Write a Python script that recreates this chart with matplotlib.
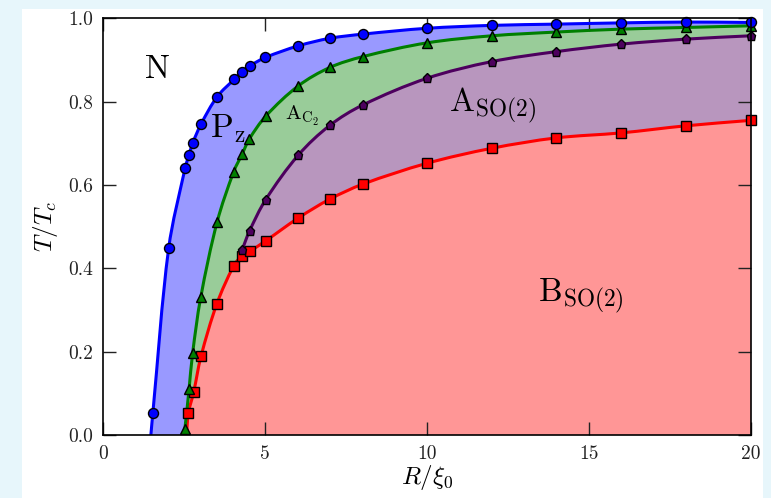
import matplotlib
matplotlib.use("Agg")
import numpy as np
import matplotlib.pyplot as plt
from matplotlib.patches import Rectangle, PathPatch
from matplotlib.path import Path
from matplotlib.ticker import FormatStrFormatter

plt.rcParams['font.family'] = 'serif'
plt.rcParams['font.serif'] = ['cmr10']
plt.rcParams['mathtext.fontset'] = 'cm'
plt.rcParams['axes.unicode_minus'] = False

# ---- data ----
# N -> P_z boundary (blue circles)
blue_x = [1.53, 2.02, 2.53, 2.65, 2.76, 3.02, 3.52, 4.05, 4.28, 4.53, 5.01, 6.03, 7.0, 8.02, 10.0, 12.0, 14.0, 16.0, 18.0, 20.0]
blue_y = [0.052, 0.448, 0.641, 0.672, 0.700, 0.746, 0.812, 0.854, 0.872, 0.886, 0.906, 0.934, 0.952, 0.962, 0.976, 0.983, 0.986, 0.989, 0.991, 0.990]
blue_start = (1.47, 0.0)

# P_z -> A_C2 boundary (green triangles)
green_x = [2.52, 2.65, 2.76, 3.01, 3.52, 4.03, 4.29, 4.51, 5.03, 6.03, 7.0, 8.02, 10.0, 12.0, 14.0, 16.0, 18.0, 20.0]
green_y = [0.014, 0.110, 0.196, 0.330, 0.512, 0.632, 0.674, 0.710, 0.766, 0.838, 0.882, 0.908, 0.941, 0.958, 0.967, 0.974, 0.978, 0.982]
green_start = (2.49, 0.0)

# A_C2 -> A_SO(2) boundary (purple pentagons)
purple_x = [4.28, 4.52, 5.02, 6.03, 7.0, 8.02, 10.0, 12.0, 14.0, 16.0, 18.0, 20.0]
purple_y = [0.444, 0.490, 0.565, 0.672, 0.743, 0.792, 0.856, 0.896, 0.920, 0.938, 0.950, 0.958]
purple_start = (4.17, 0.432)

# -> B_SO(2) boundary (red squares)
red_x = [2.63, 2.79, 3.02, 3.51, 4.03, 4.28, 4.53, 5.02, 6.03, 7.0, 8.02, 10.0, 12.0, 14.0, 16.0, 18.0, 20.0]
red_y = [0.053, 0.102, 0.189, 0.315, 0.406, 0.430, 0.441, 0.466, 0.521, 0.566, 0.602, 0.652, 0.688, 0.713, 0.725, 0.742, 0.755]
red_start = (2.57, 0.0)

x_ticks = [0, 5, 10, 15, 20]
y_ticks = [0.0, 0.2, 0.4, 0.6, 0.8, 1.0]

phase_labels = ['N', r'$\mathrm{P}_{\mathrm{z}}$', r'$\mathrm{A}_{\mathrm{C}_2}$',
                r'$\mathrm{A}_{\mathrm{SO(2)}}$', r'$\mathrm{B}_{\mathrm{SO(2)}}$']

# ---- figure ----
fig = plt.figure(figsize=(7.71, 4.98), dpi=100, facecolor='#e7f6fb')
bg = Rectangle((22 / 771, 0), (763 - 22) / 771, (498 - 9) / 498,
               transform=fig.transFigure, facecolor='white',
               edgecolor='none', zorder=-10)
fig.add_artist(bg)
ax_w_px, ax_h_px = 750.5 - 103.3, 435 - 18.3
ax = fig.add_axes([103.3 / 771, (498 - 435) / 498, ax_w_px / 771, ax_h_px / 498])
ax.set_zorder(1)
ax.set_facecolor('white')
ax.set_xlim(0, 20)
ax.set_ylim(0, 1.0)

def full(start, xs, ys):
    return [start[0]] + list(xs), [start[1]] + list(ys)

def smooth_path(xs, ys, close_to=None):
    """Bezier (CURVE4) path passing through the data points; matplotlib draws the curve."""
    sx, sy = ax_w_px / 20.0, ax_h_px / 1.0
    P = np.column_stack([np.asarray(xs) * sx, np.asarray(ys) * sy])
    n = len(P)
    T = np.zeros_like(P)
    for i in range(n):
        a = P[max(i - 1, 0)]
        b = P[min(i + 1, n - 1)]
        d = b - a
        T[i] = d / np.hypot(*d)
    verts = [P[0]]
    codes = [Path.MOVETO]
    for i in range(n - 1):
        L = np.hypot(*(P[i + 1] - P[i]))
        verts += [P[i] + T[i] * L / 3, P[i + 1] - T[i + 1] * L / 3, P[i + 1]]
        codes += [Path.CURVE4] * 3
    verts = np.array(verts) / np.array([sx, sy])
    verts = [tuple(v) for v in verts]
    if close_to is not None:
        for v in close_to:
            verts.append(v)
            codes.append(Path.LINETO)
        verts.append(verts[0])
        codes.append(Path.CLOSEPOLY)
    return Path(verts, codes)

bx, by = full(blue_start, blue_x, blue_y)
gx, gy = full(green_start, green_x, green_y)
px, py = full(purple_start, purple_x, purple_y)
rx, ry = full(red_start, red_x, red_y)

fills = [(bx, by, '#9999ff', [(20.5, by[-1]), (20.5, 0.0)]),
         (gx, gy, '#99cc99', [(20.5, gy[-1]), (20.5, 0.0)]),
         (px, py, '#b896be', [(20.5, py[-1]), (20.5, 0.0), (px[0], 0.0)]),
         (rx, ry, '#ff9696', [(20.5, ry[-1]), (20.5, 0.0)])]
for k, (xs, ys, col, tail) in enumerate(fills):
    ax.add_patch(PathPatch(smooth_path(xs, ys, close_to=tail), facecolor=col,
                           edgecolor='none', zorder=1 + 0.1 * k))

lw = 2.2
for xs, ys, col in [(rx, ry, '#ff0000'), (px, py, '#4d005e'),
                    (gx, gy, '#007f00'), (bx, by, '#0000ff')]:
    ax.add_patch(PathPatch(smooth_path(xs, ys), facecolor='none', edgecolor=col,
                           lw=lw, zorder=3, capstyle='butt'))

ax.plot(red_x, red_y, 's', ms=6.8, mfc='#ff0000', mec='black', mew=1.0, ls='none', zorder=4, clip_on=False)
ax.plot(purple_x, purple_y, 'p', ms=6.5, mfc='#4d005e', mec='black', mew=1.0, ls='none', zorder=4.1, clip_on=False)
ax.plot(green_x, green_y, '^', ms=7.2, mfc='#008000', mec='black', mew=1.0, ls='none', zorder=4.2, clip_on=False)
ax.plot(blue_x, blue_y, 'o', ms=7.2, mfc='#0000ff', mec='black', mew=1.0, ls='none', zorder=4.3, clip_on=False)

ax.set_xticks(x_ticks)
ax.set_yticks(y_ticks)
ax.yaxis.set_major_formatter(FormatStrFormatter('%.1f'))
ax.tick_params(direction='in', length=9.5, width=1.0, top=True, right=True,
               labelsize=14, pad=7, colors='#222222')
for s in ax.spines.values():
    s.set_linewidth(1.2)
    s.set_zorder(6)

ax.set_xlabel(r'$R/\xi_0$', fontsize=18, labelpad=0)
ax.set_ylabel(r'$T/T_c$', fontsize=18, labelpad=6)

ax.text(1.69, 0.876, phase_labels[0], fontsize=24, ha='center', va='center', zorder=7)
ax.text(3.3, 0.715, phase_labels[1], fontsize=24, ha='left', va='baseline', zorder=7)
ax.text(5.62, 0.756, phase_labels[2], fontsize=15, ha='left', va='baseline', zorder=7)
ax.text(10.69, 0.776, phase_labels[3], fontsize=24, ha='left', va='baseline', zorder=7)
ax.text(13.43, 0.32, phase_labels[4], fontsize=24, ha='left', va='baseline', zorder=7)

fig.savefig('out.png', dpi=100, facecolor=fig.get_facecolor())
